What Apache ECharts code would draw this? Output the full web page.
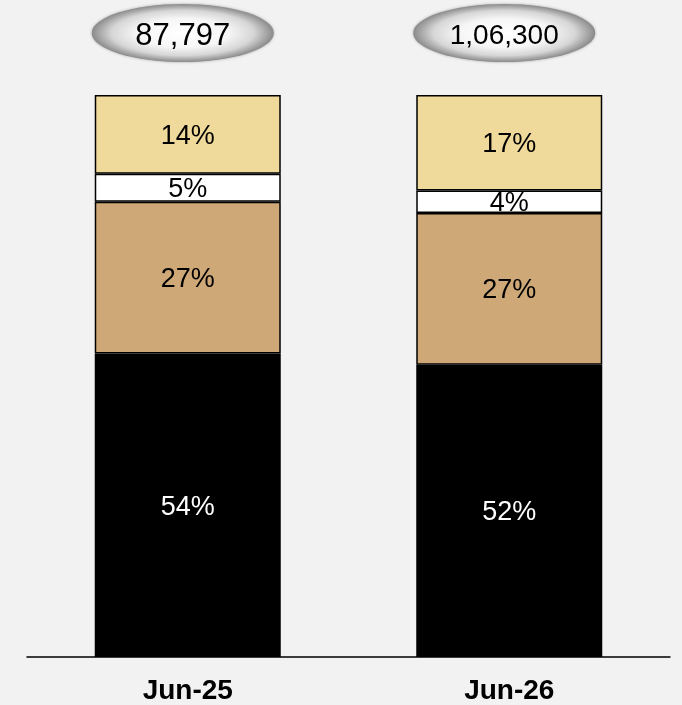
<!DOCTYPE html>
<html>
<head>
<meta charset="utf-8">
<script src="https://cdn.jsdelivr.net/npm/echarts@6/dist/echarts.min.js"></script>
<style>
  html, body { margin: 0; padding: 0; background: #f2f2f2; }
  #chart { width: 682px; height: 705px; }
</style>
</head>
<body>
<div id="chart"></div>
<script>
// Period labels and total headcount bubbles
const categories = ['Jun-25', 'Jun-26'];
const totals = ['87,797', '1,06,300'];

// Share of total (%), stacked bottom to top
const shareBlack = [54, 52];
const shareTan = [27, 27];
const shareWhite = [5, 4];
const shareYellow = [14, 17];

const FONT = '"Liberation Sans", Arial, sans-serif';
const bubbleFontSize = [31, 28];

function segment(name, values, fill, textColor) {
  return {
    name: name,
    type: 'bar',
    stack: 'total',
    barWidth: 186,
    data: values,
    itemStyle: { color: fill, borderColor: '#000', borderWidth: 1.5 },
    label: {
      show: true,
      position: 'inside',
      offset: [0, 2],
      formatter: p => p.value + '%',
      color: textColor,
      fontFamily: FONT,
      fontSize: 27
    },
    emphasis: { disabled: true },
    silent: true
  };
}

const chart = echarts.init(document.getElementById('chart'), null, { renderer: 'canvas' });

chart.setOption({
  backgroundColor: '#f2f2f2',
  animation: false,
  grid: { left: 27, right: 12, top: 95, bottom: 48, containLabel: false },
  xAxis: {
    type: 'category',
    data: categories,
    axisLine: { show: true, lineStyle: { color: '#000', width: 1.5 } },
    axisTick: { show: false },
    axisLabel: {
      color: '#000',
      fontFamily: FONT,
      fontWeight: 'bold',
      fontSize: 28,
      margin: 20
    }
  },
  yAxis: {
    type: 'value',
    min: 0,
    max: 100,
    show: false,
    splitLine: { show: false }
  },
  series: [
    segment('black', shareBlack, '#000000', '#ffffff'),
    segment('tan', shareTan, '#cfa877', '#000000'),
    segment('white', shareWhite, '#ffffff', '#000000'),
    segment('yellow', shareYellow, '#f0da9b', '#000000'),
    {
      // Total bubbles floating above each stacked column
      type: 'custom',
      coordinateSystem: 'cartesian2d',
      clip: false,
      silent: true,
      data: categories.map((c, i) => [i, 100]),
      encode: { x: 0, y: 1 },
      renderItem: function (params, api) {
        const top = api.coord([api.value(0), api.value(1)]);
        const cx = top[0] - 5;
        const cy = top[1] - 62;
        const rx = 91, ry = 29;
        return {
          type: 'group',
          children: [
            {
              type: 'circle',
              x: cx,
              y: cy,
              scaleX: rx / ry,
              shape: { cx: 0, cy: 0, r: ry },
              style: {
                fill: new echarts.graphic.RadialGradient(0.5, 0.5, 0.5, [
                  { offset: 0, color: '#ffffff' },
                  { offset: 0.5, color: '#f6f6f6' },
                  { offset: 0.78, color: '#d6d6d6' },
                  { offset: 1, color: '#8a8a8a' }
                ]),
                shadowBlur: 3,
                shadowColor: 'rgba(120,120,120,0.6)'
              }
            },
            {
              type: 'text',
              x: cx,
              y: cy + 3,
              style: {
                text: totals[params.dataIndex],
                fill: '#000',
                fontFamily: FONT,
                fontSize: bubbleFontSize[params.dataIndex],
                align: 'center',
                verticalAlign: 'middle'
              }
            }
          ]
        };
      }
    }
  ]
});
</script>
</body>
</html>
